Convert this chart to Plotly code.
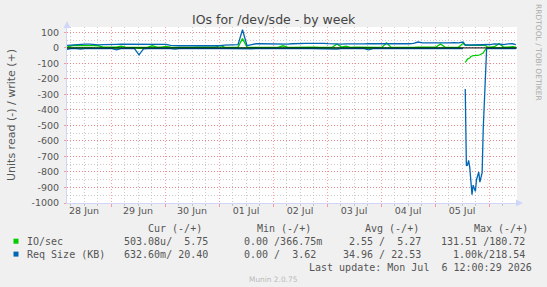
import plotly.graph_objects as go
import pandas as pd

# ---------------- data ----------------
T0 = pd.Timestamp("2026-06-28 04:26")
# sampling grid in hours after T0 (2h steps, then 30-min steps around the 05 Jul event, then 2h)
hours = (list(range(0, 177, 2))
         + [176.5 + 0.5 * i for i in range(22)]
         + [188, 190, 192, 194, 196, 198, 199.5])

# Req Size (KB) write (+)
req_write = [16, 18, 24, 25, 24, 25, 22, 20, 21, 23,
             24, 23, 24, 24, 22, 24, 23, 24, 24, 25,
             24, 24, 23, 16, 14, 14, 15, 13, 14, 15,
             14, 13, 14, 15, 14, 18, 20, 19, 21, 117,
             15, 22, 27, 27, 26, 28, 27, 26, 27, 25,
             27, 29, 28, 30, 29, 30, 29, 30, 28, 26,
             24, 25, 26, 25, 26, 24, 26, 28, 27, 28,
             27, 28, 27, 28, 27, 28, 27, 30, 38, 33,
             32, 33, 32, 33, 33, 32, 34, 33, 38,
             30, 19, 19, 20, 19, 19, 20, 19, 19, 20, 19,
             19, 20, 19, 19, 20, 19, 19, 20, 19, 21, 22,
             22, 26, 24, 22, 26, 27, 22]
# Req Size (KB) read (-)
req_read = [10, 4, 5, 8, 4, 5, 4, 6, 4, 5,
            4, 12, 5, 4, 5, 4, 45, 6, 4, 5,
            4, 5, 4, 4, 8, 5, 4, 5, 4, 5,
            4, 5, 6, 4, 5, 4, 5, 4, 5, 8,
            8, 6, 4, 5, 4, 5, 4, 5, 4, 5,
            4, 5, 4, 5, 4, 5, 6, 5, 4, 5,
            8, 4, 5, 4, 5, 4, 5, 12, 5, 4,
            5, 4, 5, 4, 5, 4, 5, 4, 5, 4,
            5, 4, 5, 4, 5, 4, 5, 4, 5,
            None, 265, 760, 755, 725, 770, 900, 947, 885, 905, 925,
            850, 825, 800, 865, 830, 805, 520, 320, 210, 5, 4,
            3, 5, 4, 5, 3, 4, 5]
# IO/sec write (+)
io_write = [5, 14, 16, 17, 16, 15, 15, 14, 5, 4,
            5, 5, 12, 5, 4, 5, 5, 4, 5, 14,
            5, 5, 10, 5, 4, 5, 4, 5, 4, 5,
            4, 5, 4, 5, 16, 5, 4, 5, 5, 60,
            5, 4, 5, 4, 5, 4, 5, 5, 14, 5,
            4, 5, 4, 5, 4, 5, 4, 5, 4, 5,
            25, 5, 12, 4, 5, 4, 5, 4, 5, 4,
            5, 32, 5, 4, 5, 4, 5, 4, 5, 4,
            5, 4, 5, 25, 5, 4, 5, 4, 30,
            20, 17, 18, 17, 18, 17, 18, 17, 18, 17, 18,
            17, 18, 17, 18, 17, 18, 17, 18, 17, 8, 5,
            5, 8, 28, 6, 5, 8, 5]
# IO/sec read (-)
io_read = [1, 0, 1, 0, 1, 0, 1, 0, 1, 0,
           1, 0, 1, 0, 1, 0, 2, 0, 1, 0,
           1, 0, 1, 0, 1, 0, 1, 0, 1, 0,
           1, 0, 1, 0, 1, 0, 1, 0, 1, 2,
           1, 0, 1, 0, 1, 0, 1, 0, 1, 0,
           1, 0, 1, 0, 1, 0, 1, 0, 1, 0,
           1, 0, 1, 0, 1, 0, 1, 2, 1, 0,
           1, 0, 1, 0, 1, 0, 1, 0, 1, 0,
           1, 0, 1, 0, 1, 0, 1, 0, 1,
           None, 94, 80, 72, 68, 65, 55, 50, 50, 50, 50,
           50, 48, 46, 44, 42, 38, 33, 20, 5, 0, 0,
           0, 1, 0, 1, 0, 1, 0]

x_tickdays = ["2026-06-28", "2026-06-29", "2026-06-30", "2026-07-01",
              "2026-07-02", "2026-07-03", "2026-07-04", "2026-07-05"]
x_ticktext = ["28 Jun", "29 Jun", "30 Jun", "01 Jul", "02 Jul", "03 Jul", "04 Jul", "05 Jul"]
y_tickvals = [100, 0, -100, -200, -300, -400, -500, -600, -700, -800, -900, -1000]
y_ticktext = ["100", "0", "-100", "-200", "-300", "-400", "-500", "-600", "-700", "-800", "-900", "-1000"]

legend_header = ["Cur (-/+)", "Min (-/+)", "Avg (-/+)", "Max (-/+)"]
row_io = ["IO/sec", "503.08u/  5.75", "0.00 /366.75m", "2.55 /  5.27", "131.51 /180.72"]
row_req = ["Req Size (KB)", "632.60m/ 20.40", "0.00 /  3.62", "34.96 / 22.53", "1.00k/218.54"]
last_update = "Last update: Mon Jul  6 12:00:29 2026"

GREEN = "#00CC00"
BLUE = "#0066B3"

# ---------------- figure ----------------
times = [T0 + pd.Timedelta(hours=h) for h in hours]
neg = lambda arr: [None if v is None else -v for v in arr]

W, H = 547, 287
L, R, T, B = 67, 30, 27, 84
PW, PH = W - L - R, H - T - B

def px(x):
    return (x - L) / PW

def py(y):
    return (T + PH - y) / PH

fig = go.Figure()
fig.add_trace(go.Scatter(x=times, y=neg(io_read), mode="lines", line=dict(color=GREEN, width=1.3), xaxis="x", yaxis="y"))
fig.add_trace(go.Scatter(x=times, y=io_write, mode="lines", line=dict(color=GREEN, width=1.3), xaxis="x", yaxis="y"))
fig.add_trace(go.Scatter(x=times, y=neg(req_read), mode="lines", line=dict(color=BLUE, width=1.3), xaxis="x2", yaxis="y"))
fig.add_trace(go.Scatter(x=times, y=req_write, mode="lines", line=dict(color=BLUE, width=1.3), xaxis="x2", yaxis="y"))

MGRID = "rgba(255,80,80,0.55)"
GRID = "rgba(170,170,170,0.6)"
AXIS = "#CFD6F8"
FONT = "#555555"
DOT = "1px,2px"
xr = [T0, T0 + pd.Timedelta(hours=200)]
x_tickvals = [pd.Timestamp(d) + pd.Timedelta(hours=12) for d in x_tickdays]

fig.update_layout(
    width=W, height=H,
    margin=dict(l=L, r=R, t=T, b=B, pad=0),
    paper_bgcolor="#F0F0F0", plot_bgcolor="#FFFFFF",
    showlegend=False,
    xaxis=dict(type="date", range=xr, showticklabels=False,
               tickmode="linear", tick0="2026-06-28 00:00", dtick=86400000,
               showgrid=True, gridcolor=MGRID, griddash=DOT, gridwidth=1,
               ticks="outside", ticklen=3, tickcolor=MGRID,
               showline=True, linecolor=AXIS, linewidth=1, zeroline=False,
               minor=dict(dtick=21600000, tick0="2026-06-28 00:00", showgrid=True,
                          gridcolor=GRID, griddash=DOT, ticks="outside", ticklen=2, tickcolor=GRID)),
    xaxis2=dict(type="date", range=xr, overlaying="x", matches="x", side="bottom", anchor="y",
                tickmode="array", tickvals=x_tickvals, ticktext=x_ticktext,
                showgrid=False, ticks="", showline=False, zeroline=False,
                tickfont=dict(family="DejaVu Sans", size=9.5, color=FONT)),
    yaxis=dict(range=[-1000, 135], tickmode="array", tickvals=y_tickvals, ticktext=y_ticktext,
               showgrid=True, gridcolor=MGRID, griddash=DOT, gridwidth=1,
               ticks="outside", ticklen=2, tickcolor=MGRID, ticklabelstandoff=3,
               showline=True, linecolor=AXIS, linewidth=1, zeroline=False,
               tickfont=dict(family="DejaVu Sans", size=9.5, color=FONT),
               minor=dict(dtick=50, tick0=0, showgrid=True, gridcolor=GRID, griddash=DOT)),
)

# zero line on top
fig.add_shape(type="line", xref="paper", x0=0, x1=1, yref="y", y0=0, y1=0,
              line=dict(color="#000000", width=1), layer="above")

ann = []
def text(x, y, s, size=10, fam="DejaVu Sans Mono", color=FONT, xanchor="left", angle=0):
    ann.append(dict(x=px(x), y=py(y), xref="paper", yref="paper", text=s.replace(" ", "\u00a0"),
                    showarrow=False, xanchor=xanchor, yanchor="middle", textangle=angle,
                    font=dict(family=fam, size=size, color=color), borderpad=0))

text(274, 19.5, "IOs for /dev/sde - by week", size=12.5, fam="DejaVu Sans", color="#444444", xanchor="center")
text(11, 115, "Units read (-) / write (+)", size=11, fam="DejaVu Sans", color=FONT, xanchor="center", angle=-90)
text(539, 52, "RRDTOOL / TOBI OETIKER", size=7.5, fam="DejaVu Sans", color="#AAAAAA", xanchor="center", angle=90)

hdr_x = [146.5, 255.8, 364, 472.8]
for s, x in zip(legend_header, hdr_x):
    text(x, 228.8, s)
for row, yy in ((row_io, 241.4), (row_req, 254.3)):
    text(26, yy, row[0])
    text(209.3, yy, row[1], xanchor="right")
    text(242.5, yy, row[2])
    text(421.5, yy, row[3], xanchor="right")
    text(526, yy, row[4], xanchor="right")
text(533, 267, last_update, xanchor="right")
text(273, 279.5, "Munin 2.0.75", size=7.4, fam="DejaVu Sans", color="#BBBBBB", xanchor="center")

# axis arrows
ann.append(dict(x=px(523), y=0, xref="paper", yref="paper", text="", showarrow=True,
                ax=-8, ay=0, arrowhead=2, arrowsize=1.4, arrowwidth=1, arrowcolor=AXIS))
ann.append(dict(x=0, y=py(21), xref="paper", yref="paper", text="", showarrow=True,
                ax=0, ay=8, arrowhead=2, arrowsize=1.4, arrowwidth=1, arrowcolor=AXIS))
fig.update_layout(annotations=ann)

# legend colour boxes
for col, yy in ((GREEN, 241.2), (BLUE, 254.1)):
    fig.add_shape(type="rect", xref="paper", yref="paper",
                  x0=px(13.5), x1=px(18.5), y0=py(yy + 2.5), y1=py(yy - 2.5),
                  fillcolor=col, line=dict(width=0))

fig.write_html("out.html")
